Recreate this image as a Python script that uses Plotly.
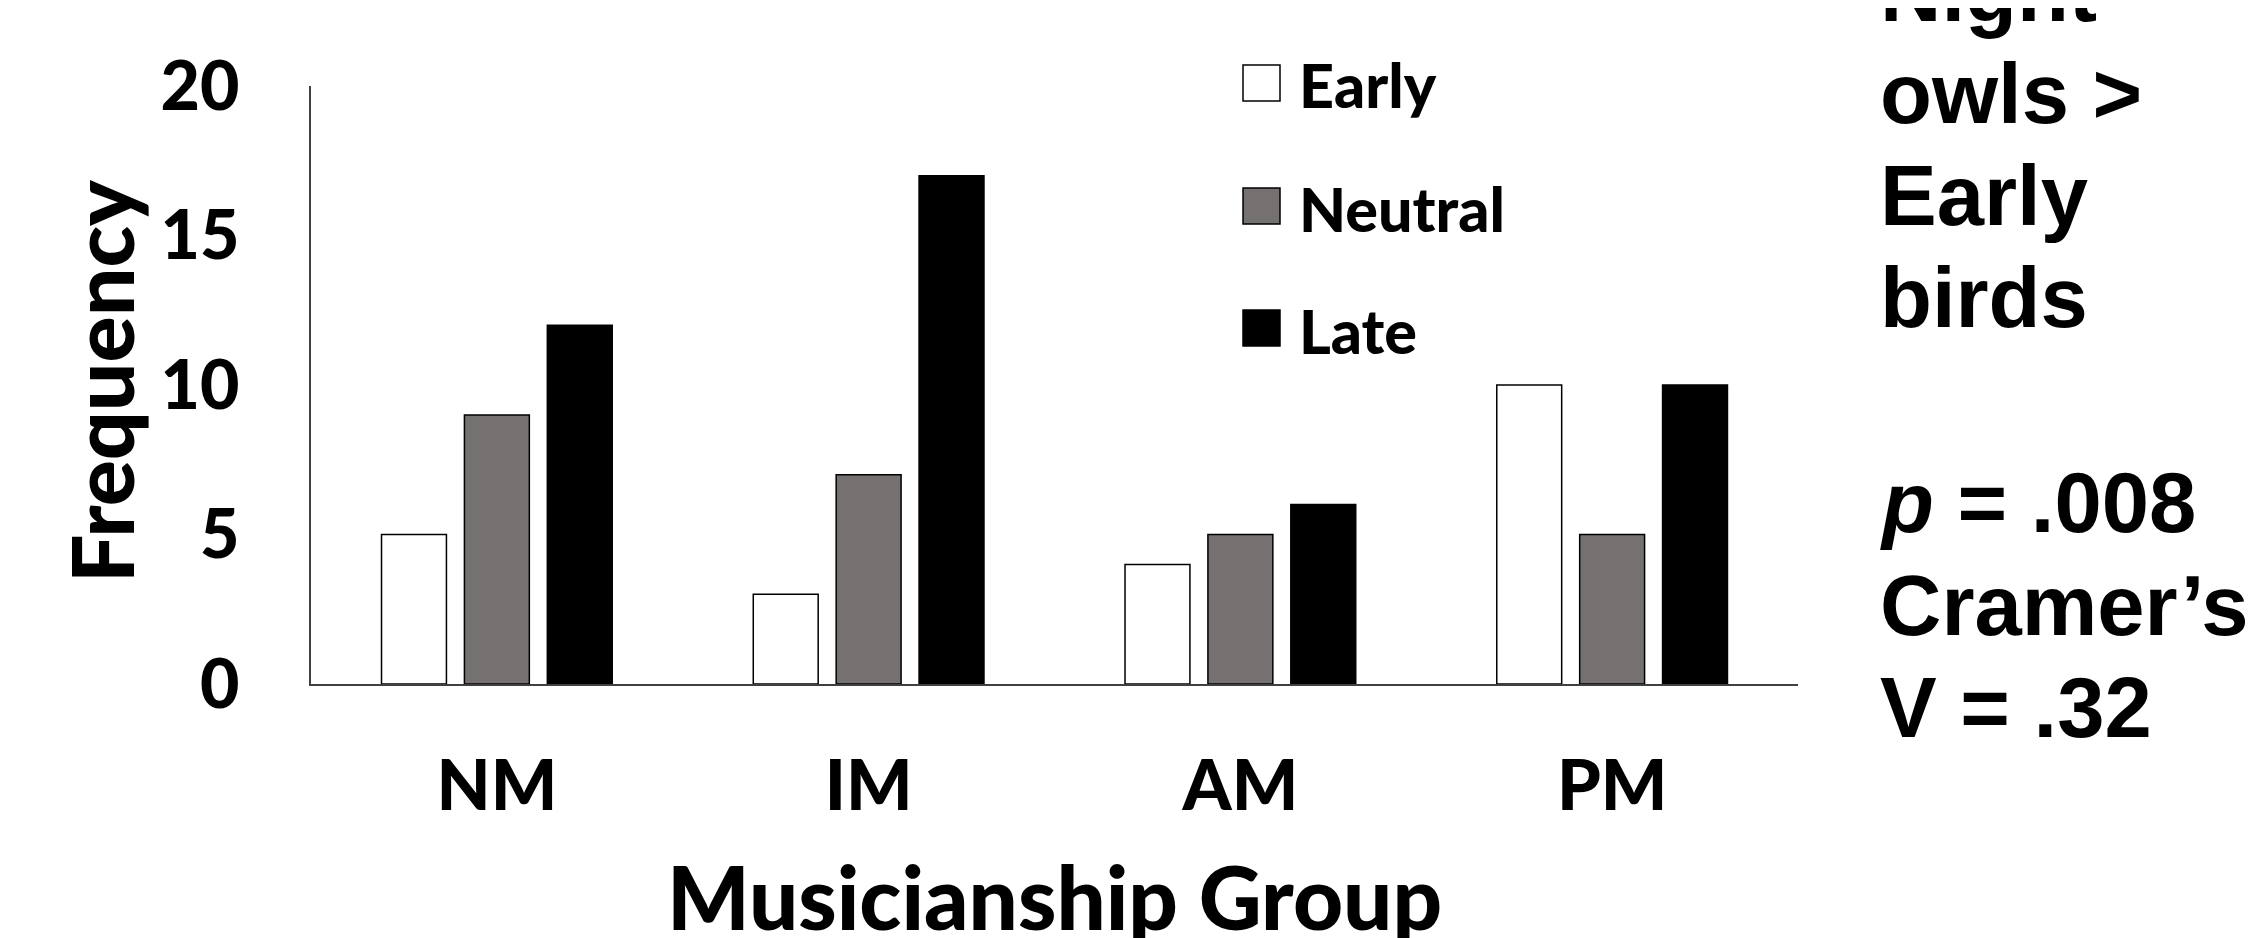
import plotly.graph_objects as go

# ---- data ----
groups = ["NM", "IM", "AM", "PM"]
series_names = ["Early", "Neutral", "Late"]
early = [5, 3, 4, 10]
neutral = [9, 7, 5, 5]
late = [12, 17, 6, 10]
series_values = [early, neutral, late]
series_colors = ["#FFFFFF", "#767171", "#000000"]
y_ticks = [0, 5, 10, 15, 20]
x_title = "Musicianship Group"
y_title = "Frequency"
side_lines = ["Night", "owls >", "Early", "birds", "", "<i>p</i> = .008", "Cramer’s", "V = .32"]

# ---- layout geometry (page pixels; page body has an 8px margin) ----
OFF = 8
W, H = 2259 - OFF, 938 - OFF
L, R, T, B = 311 - OFF, 1798 - OFF, 86 - OFF, 684 - OFF


def px(xp):
    return (xp - OFF - L) / (R - L)


def py(yp):
    return (B - (yp - OFF)) / (B - T)


fig = go.Figure()
for name, vals, col in zip(series_names, series_values, series_colors):
    fig.add_trace(go.Bar(
        x=groups, y=vals, name=name,
        marker=dict(color=col, line=dict(color="#000000", width=1.5)),
        showlegend=False,
    ))

FONT = "Lato"
WT = 900
annotations = []
shapes = []

# manual legend (large swatches like the original)
leg_y = [83, 206, 328]
for name, col, yc in zip(series_names, series_colors, leg_y):
    shapes.append(dict(type="rect", xref="paper", yref="paper",
                       x0=px(1243), x1=px(1280), y0=py(yc + 18), y1=py(yc - 18),
                       fillcolor=col, line=dict(color="#000000", width=1.5)))
    annotations.append(dict(text=name, xref="paper", yref="paper",
                            x=px(1297), y=py(yc + 2), xanchor="left", yanchor="middle",
                            showarrow=False,
                            font=dict(family=FONT, size=61, color="#000000", weight=WT)))

# axis titles
annotations.append(dict(text=y_title, xref="paper", yref="paper",
                        x=px(100), y=py(381), xanchor="center", yanchor="middle",
                        textangle=-90, showarrow=False,
                        font=dict(family=FONT, size=86, color="#000000", weight=WT)))
annotations.append(dict(text=x_title, xref="paper", yref="paper",
                        x=0.5, y=py(896), xanchor="center", yanchor="middle",
                        showarrow=False,
                        font=dict(family=FONT, size=87, color="#000000", weight=WT)))

# side text
baselines = [21, 123, 225, 327, 429, 532, 635, 737]
for txt, bl in zip(side_lines, baselines):
    if not txt:
        continue
    annotations.append(dict(text=f"<b>{txt}</b>", xref="paper", yref="paper",
                            x=px(1878), y=py(bl - 30), xanchor="left", yanchor="middle",
                            showarrow=False,
                            font=dict(family="Liberation Sans, Arial", size=85, color="#000000")))

fig.update_layout(
    width=W, height=H,
    margin=dict(l=L, r=W - R, t=T, b=H - B, autoexpand=False),
    paper_bgcolor="#FFFFFF", plot_bgcolor="#FFFFFF",
    barmode="group", bargap=0.331, bargroupgap=0.217,
    annotations=annotations, shapes=shapes,
    showlegend=False,
)
fig.update_xaxes(
    showline=True, linecolor="#404040", linewidth=2,
    showgrid=False, zeroline=False, ticks="",
    ticklabelstandoff=40,
    tickfont=dict(family=FONT, size=70, color="#000000", weight=WT),
    automargin=False,
)
fig.update_yaxes(
    range=[0, 20], tickvals=y_ticks,
    showline=True, linecolor="#404040", linewidth=2,
    showgrid=False, zeroline=False, ticks="",
    ticklabelstandoff=56,
    tickfont=dict(family=FONT, size=68, color="#000000", weight=WT),
    automargin=False,
)

fig.write_html("out.html")
